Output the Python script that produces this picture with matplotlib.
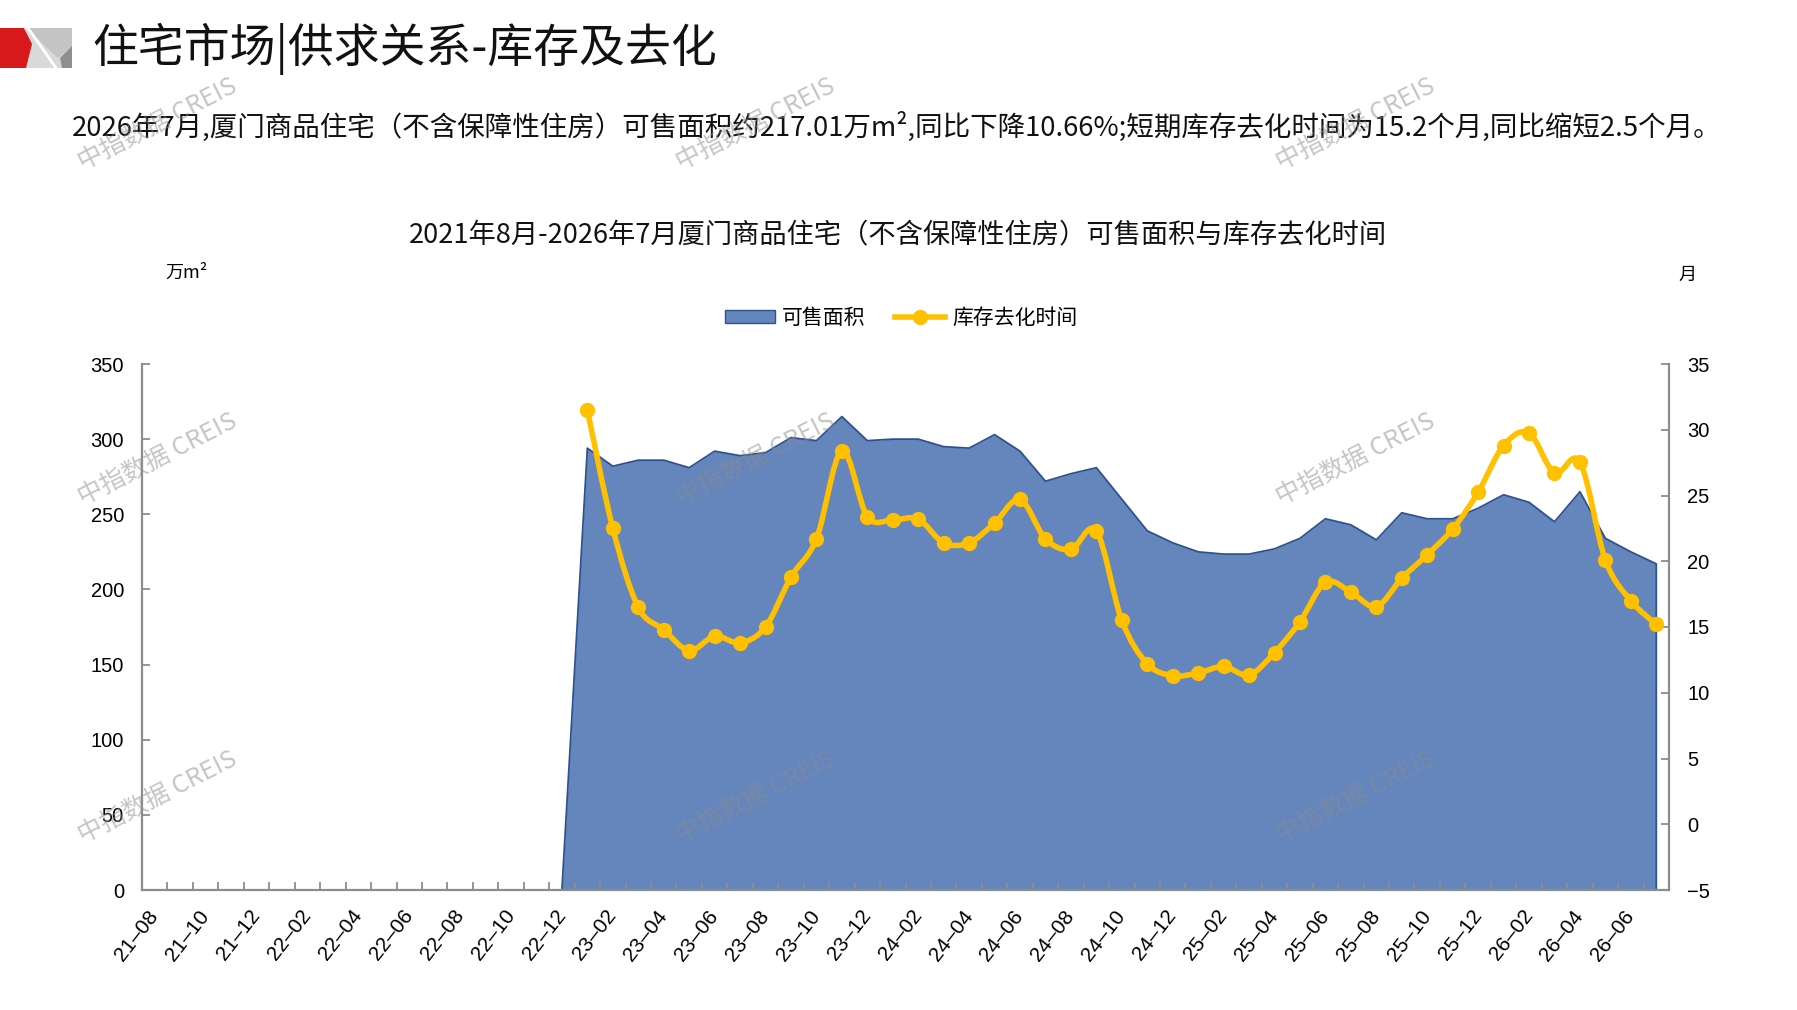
import numpy as np
import matplotlib
matplotlib.use("Agg")
import matplotlib.pyplot as plt
from matplotlib.path import Path
from matplotlib.patches import PathPatch, Patch, Polygon
from matplotlib.lines import Line2D

plt.rcParams['font.family'] = ['Noto Sans CJK SC', 'DejaVu Sans']

# months 21-08 .. 26-07 (labels use an en dash, as in the source chart)
months = []
for yy in range(21, 27):
    for mm in range(1, 13):
        if (yy == 21 and mm < 8) or (yy == 26 and mm > 7):
            continue
        months.append("%02d\u2013%02d" % (yy, mm))

# 可售面积 (万m²), no data before 23-01
area = [0] * 17 + [
    294, 282, 286, 286, 281, 292, 289, 291, 301, 299, 315, 299,   # 23-01..23-12
    300, 300, 295, 294, 303, 292, 272, 277, 281, 260, 239, 231,   # 24-01..24-12
    225, 223.5, 223.5, 227, 234, 247, 243, 233, 251, 247, 247, 254,  # 25-01..25-12
    263, 258, 245, 265, 234, 225, 217.01,                          # 26-01..26-07
]

# 库存去化时间 (月)
months_to_clear = [None] * 17 + [
    31.5, 22.5, 16.5, 14.8, 13.2, 14.3, 13.8, 15.0, 18.8, 21.7, 28.4, 23.4,
    23.15, 23.2, 21.4, 21.4, 22.9, 24.7, 21.7, 20.9, 22.3, 15.5, 12.2, 11.3,
    11.5, 12.0, 11.35, 13.05, 15.4, 18.4, 17.65, 16.55, 18.7, 20.5, 22.45, 25.25,
    28.8, 29.75, 26.7, 27.55, 20.1, 17.0, 15.2,
]

title = "住宅市场|供求关系-库存及去化"
summary = ("2026年7月,厦门商品住宅（不含保障性住房）可售面积约217.01万m²,同比下降10.66%;"
           "短期库存去化时间为15.2个月,同比缩短2.5个月。")
chart_title = "2021年8月-2026年7月厦门商品住宅（不含保障性住房）可售面积与库存去化时间"

W, H = 1797, 1010
AREA_C = '#6586BD'
EDGE_C = '#2F528F'
LINE_C = '#FFC000'
SPINE_C = '#8C8C8C'

fig = plt.figure(figsize=(W / 100, H / 100), dpi=100)

# background layer for the logo, pixel coordinates
bg = fig.add_axes([0, 0, 1, 1], zorder=0)
bg.set_xlim(0, W)
bg.set_ylim(H, 0)
bg.axis('off')
bg.add_patch(Polygon([(26, 28), (72, 28), (72, 68), (26, 68)], closed=True, color='#d9d9d9', lw=0))
bg.add_patch(Polygon([(26, 28), (72, 28), (72, 46), (58, 58)], closed=True, color='#c4c4c4', lw=0))
bg.add_patch(Polygon([(60, 58), (72, 46), (72, 68), (62, 68)], closed=True, color='#8f8f8f', lw=0))
bg.plot([28, 56], [28, 68], color='white', lw=2)
bg.add_patch(Polygon([(0, 28), (24, 28), (32, 44), (26, 68), (0, 68)], closed=True, color='#d7191c', lw=0))

fig.text(92 / W, 1 - 49 / H, title, fontsize=33, va='center', ha='left', color='#111111')
fig.text(72 / W, 1 - 127 / H, summary, fontsize=19.8, va='center', ha='left', color='#111111')
fig.text(898 / W, 1 - 235 / H, chart_title, fontsize=19.6, va='center', ha='center', color='#111111')
fig.text(187 / W, 1 - 273 / H, "万m²", fontsize=13, va='center', ha='center')
fig.text(1687 / W, 1 - 275 / H, "月", fontsize=13, va='center', ha='center')

ax = fig.add_axes([142 / W, 1 - 890 / H, 1527 / W, 526 / H], zorder=2)
ax.patch.set_alpha(0)
x = np.arange(len(months))
area_arr = np.array(area, dtype=float)
ax.fill_between(x, area_arr, 0, color=AREA_C, lw=0, zorder=1)
nz = np.nonzero(area_arr)[0]
first = nz[0] - 1
ax.plot(list(x[first:]) + [x[-1]], list(area_arr[first:]) + [0], color=EDGE_C, lw=1.3, zorder=2)
ax.set_xlim(-0.5, len(months) - 0.5)
ax.set_ylim(0, 350)
ax.set_yticks(np.arange(0, 351, 50))
ax.set_xticks(x[::2])
ax.set_xticklabels(months[::2], rotation=52, ha='right', va='center', rotation_mode='anchor',
                   fontfamily='Liberation Sans', fontsize=15)
ax.set_xticks(np.arange(0.5, len(months) - 0.5, 1), minor=True)
ax.tick_params(axis='x', which='major', length=0, pad=16)
ax.tick_params(axis='x', which='minor', direction='in', length=6, color=SPINE_C, width=1.3)
ax.tick_params(axis='y', direction='in', length=6, color=SPINE_C, width=1.3, pad=13)
for lab in ax.get_yticklabels():
    lab.set_fontfamily('Liberation Sans')
    lab.set_fontsize(14.5)
for s in ['top', 'right']:
    ax.spines[s].set_visible(False)
for s in ['left', 'bottom']:
    ax.spines[s].set_color(SPINE_C)
    ax.spines[s].set_linewidth(1.6)

ax2 = ax.twinx()
ax2.set_ylim(-5, 35)
ax2.set_yticks(np.arange(-5, 36, 5))
ax2.set_yticklabels([("\u2212%d" % -t) if t < 0 else str(t) for t in range(-5, 36, 5)])
ax2.tick_params(axis='y', direction='in', length=6, color=SPINE_C, width=1.3, pad=13)
for lab in ax2.get_yticklabels():
    lab.set_fontfamily('Liberation Sans')
    lab.set_fontsize(14.5)
for s in ['top', 'left', 'bottom']:
    ax2.spines[s].set_visible(False)
ax2.spines['right'].set_color(SPINE_C)
ax2.spines['right'].set_linewidth(1.6)

# smoothed line (Catmull-Rom as cubic Bezier), like Excel's smoothed line
pts = np.array([(i, v) for i, v in enumerate(months_to_clear) if v is not None], dtype=float)
n = len(pts)
verts = [pts[0]]
codes = [Path.MOVETO]
for i in range(n - 1):
    p0 = pts[i - 1] if i > 0 else pts[i]
    p1 = pts[i]
    p2 = pts[i + 1]
    p3 = pts[i + 2] if i + 2 < n else pts[i + 1]
    verts += [p1 + (p2 - p0) / 6, p2 - (p3 - p1) / 6, p2]
    codes += [Path.CURVE4] * 3
ax2.add_patch(PathPatch(Path(verts, codes), facecolor='none', edgecolor=LINE_C, lw=4,
                        capstyle='round', joinstyle='round', zorder=3))
ax2.plot(pts[:, 0], pts[:, 1], ls='none', marker='o', ms=10, color=LINE_C, zorder=4)

handles = [Patch(facecolor=AREA_C, edgecolor=EDGE_C, lw=1),
           Line2D([], [], color=LINE_C, lw=4, marker='o', ms=10)]
fig.legend(handles, ["可售面积", "库存去化时间"], loc='center', bbox_to_anchor=(901 / W, 1 - 318 / H),
           ncol=2, frameon=False, fontsize=15, handlelength=2.4, handleheight=0.55,
           handletextpad=0.35, columnspacing=1.4)

# watermarks
for cx in [158, 756, 1356]:
    for cy in [124, 459, 797]:
        fig.text(cx / W, 1 - cy / H, "中指数据 CREIS", fontsize=18, rotation=27, color='#8c8c8c',
                 alpha=0.5, ha='center', va='center', zorder=10)

fig.savefig("out.png", dpi=100)
